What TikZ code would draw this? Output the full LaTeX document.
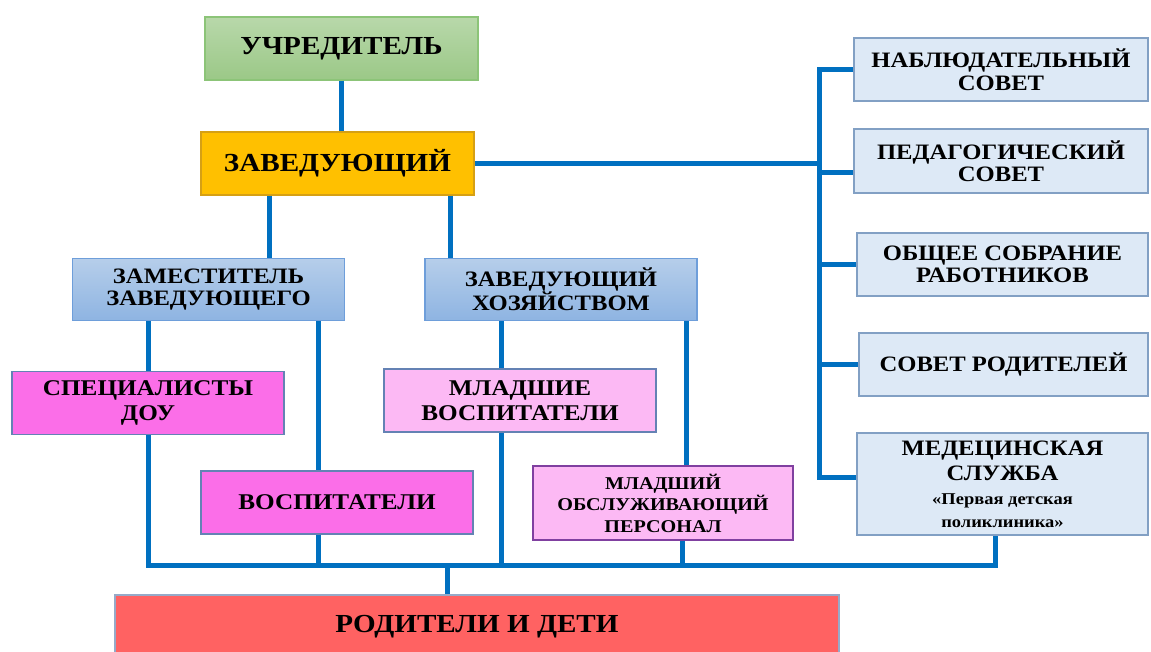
\documentclass[tikz,border=0pt]{standalone}
\usepackage{fontspec}
\setmainfont{Liberation Serif}[FakeStretch=1.12]
\usetikzlibrary{positioning}

\definecolor{linkblue}{RGB}{0,112,192}
\definecolor{greentop}{RGB}{184,216,170}
\definecolor{greenbot}{RGB}{155,200,135}
\definecolor{greenline}{RGB}{140,196,120}
\definecolor{headfill}{RGB}{255,192,0}
\definecolor{headline}{RGB}{214,160,20}
\definecolor{bluetop}{RGB}{182,206,234}
\definecolor{bluebot}{RGB}{142,180,226}
\definecolor{blueline}{RGB}{110,158,218}
\definecolor{councilfill}{RGB}{221,233,246}
\definecolor{councilline}{RGB}{130,160,196}
\definecolor{staffhot}{RGB}{251,110,232}
\definecolor{stafflight}{RGB}{252,185,244}
\definecolor{staffline}{RGB}{100,130,180}
\definecolor{purpleline}{RGB}{128,64,160}
\definecolor{parentfill}{RGB}{255,98,98}
\definecolor{parentline}{RGB}{150,170,200}

\tikzset {
  % connector style
  link/.style = {
    draw = linkblue,
    line width = 5pt
  },
  unit node/.style = {
    draw,
    line width = 1.2pt,
    align = center,
    inner sep = 0pt,
    font = \bfseries\fontsize{22}{22.5}\selectfont
  },
  % top management
  founder/.style = {
    unit node,
    draw = greenline,
    top color = greentop,
    bottom color = greenbot,
    minimum width = 273pt,
    minimum height = 63pt,
    font = \bfseries\fontsize{26}{28}\selectfont
  },
  head/.style = {
    unit node,
    draw = headline,
    fill = headfill,
    minimum width = 273pt,
    minimum height = 63pt,
    font = \bfseries\fontsize{26}{28}\selectfont
  },
  deputy/.style = {
    unit node,
    draw = blueline,
    top color = bluetop,
    bottom color = bluebot,
    minimum width = 272pt,
    minimum height = 62pt
  },
  % councils on the right
  council/.style = {
    unit node,
    draw = councilline,
    fill = councilfill,
    minimum height = 63pt
  },
  % staff boxes
  staff/.style = {
    unit node,
    draw = staffline,
    fill = staffhot,
    minimum width = 272pt,
    minimum height = 63pt,
    font = \bfseries\fontsize{22.5}{25}\selectfont
  },
  junior/.style = {
    staff,
    fill = stafflight
  },
  parents/.style = {
    unit node,
    draw = parentline,
    fill = parentfill,
    minimum width = 724pt,
    minimum height = 64pt,
    font = \bfseries\fontsize{26}{28}\selectfont
  }
}

\begin{document}
\begin{tikzpicture}[x=1pt, y=-1pt]
  \useasboundingbox (0,0) rectangle (1151,652);
  \clip (0,0) rectangle (1151,652);

  \node[founder] (uchr) at (341.5,48.5) {УЧРЕДИТЕЛЬ};
  \node[head] (zav) at (337.5,163.5) {ЗАВЕДУЮЩИЙ};
  \node[deputy] (zam) at (208.5,289.5) {ЗАМЕСТИТЕЛЬ\\ЗАВЕДУЮЩЕГО};
  \node[deputy] (hoz) at (561,289.5) {ЗАВЕДУЮЩИЙ\\ХОЗЯЙСТВОМ};

  \node[staff] (spec) at (148,403) {СПЕЦИАЛИСТЫ\\ДОУ};
  \node[staff] (vosp) at (337,502.5) {ВОСПИТАТЕЛИ};
  \node[junior] (mlv) at (520,400.5) {МЛАДШИЕ\\ВОСПИТАТЕЛИ};
  \node[junior, draw = purpleline, minimum width = 260pt, minimum height = 74pt,
    font = \bfseries\fontsize{18}{21.5}\selectfont] (mop) at (663,503)
    {МЛАДШИЙ\\ОБСЛУЖИВАЮЩИЙ\\ПЕРСОНАЛ};
  \node[parents] (rod) at (477,627) {РОДИТЕЛИ И ДЕТИ};

  \node[council, minimum width = 294pt] (nab) at (1001,69.5) {НАБЛЮДАТЕЛЬНЫЙ\\СОВЕТ};
  \node[council, minimum width = 294pt, minimum height = 64pt] (ped) at (1001,161)
    {ПЕДАГОГИЧЕСКИЙ\\СОВЕТ};
  \node[council, minimum width = 291pt] (obs) at (1002.5,264.5)
    {ОБЩЕЕ СОБРАНИЕ\\РАБОТНИКОВ};
  \node[council, minimum width = 289pt] (sov) at (1003.5,364.5) {СОВЕТ РОДИТЕЛЕЙ};
  \node[council, minimum width = 291pt, minimum height = 102pt,
    font = \bfseries\fontsize{22}{25}\selectfont] (med) at (1002.5,484)
    {МЕДЕЦИНСКАЯ\\СЛУЖБА\\[-1pt]{\fontsize{16.5}{18}\selectfont «Первая детская}\\[-2pt]{\fontsize{16.5}{18}\selectfont поликлиника»}};

  % support points
  \coordinate (zl) at ([xshift=69pt]zav.south west);
  \coordinate (zr) at ([xshift=-24pt]zav.south east);
  \coordinate (dr) at ([xshift=-27pt]zam.south east);
  \coordinate (hl) at ([xshift=77pt]hoz.south west);
  \coordinate (hr) at ([xshift=-11pt]hoz.south east);
  \coordinate (mopd) at ([xshift=19pt]mop.south);
  \coordinate (medd) at ([xshift=-7pt]med.south);
  \coordinate (drop) at ([xshift=-30pt]rod.north);
  \coordinate (bus) at ([yshift=29pt]drop);
  \coordinate (trk) at ([xshift=-34pt]nab.west);
  \coordinate (pedw) at ([yshift=-12pt]ped.west);
  \coordinate (medw) at ([yshift=7pt]med.west);

  \draw[link] (uchr.south) -- (uchr.south |- zav.north);
  \draw[link] (zl) -- (zl |- zam.north);
  \draw[link] (zr) -- (zr |- hoz.north);
  \draw[link] (zav.east) -- (zav.east -| trk);

  \draw[link] (nab.west) -| (trk |- medw) -- (medw);
  \draw[link] (trk |- pedw) -- (pedw);
  \draw[link] (trk |- obs.west) -- (obs.west);
  \draw[link] (trk |- sov.west) -- (sov.west);

  \draw[link] (spec.north |- zam.south) -- (spec.north);
  \draw[link] (dr) -- (dr |- vosp.north);
  \draw[link] (hl) -- (hl |- mlv.north);
  \draw[link] (hr) -- (hr |- mop.north);

  \draw[link] (spec.south) |- (bus -| medd) -- (medd);
  \draw[link] (dr |- vosp.south) -- (dr |- bus);
  \draw[link] (hl |- mlv.south) -- (hl |- bus);
  \draw[link] (mopd) -- (mopd |- bus);
  \draw[link] (bus) -- (drop);
\end{tikzpicture}
\end{document}
